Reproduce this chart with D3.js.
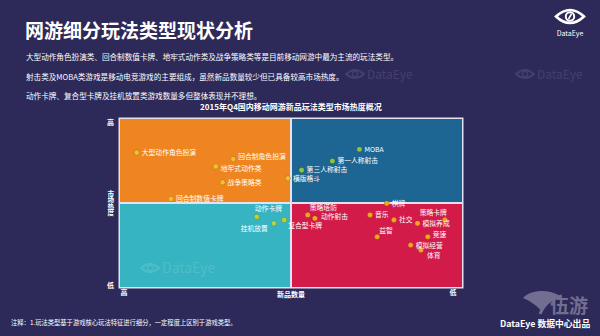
<!DOCTYPE html>
<html><head><meta charset="utf-8">
<script src="https://cdn.jsdelivr.net/npm/d3@7"></script>
<style>
html,body{margin:0;padding:0;background:#2d2959;}
svg{display:block;}
text{font-family:"Noto Sans CJK SC","Noto Sans",sans-serif;}
</style></head>
<body><svg id="c" width="600" height="336"></svg>
<script>
// ---- data ----
const categories = ["大型动作角色扮演","回合制角色扮演","地牢式动作类","战争策略类","回合制数值卡牌",
  "MOBA","第一人称射击","第三人称射击","横版格斗","棋牌",
  "动作卡牌","挂机放置","复合型卡牌",
  "策略塔防","动作射击","音乐","社交","策略卡牌","模拟养成","益智","竞速","模拟经营","体育"];
// 新品数量 index (100 = 高, 0 = 低)
const newCount = [95.1,66.9,72.0,70.0,85.1, 30.0,37.9,46.9,50.9,22.0, 60.0,55.0,52.0, 45.1,43.0,26.9,19.9,5.0,13.0,24.8,10.0,15.0,12.0];
// 市场热度 index (100 = 高, 0 = 低)
const heat = [80.0,76.2,71.8,62.3,52.4, 82.0,75.0,69.6,64.7,49.8, 41.8,37.9,39.9, 42.9,40.9,42.9,39.9,39.9,37.9,29.9,29.9,25.0,22.0];
const xTickLabels = ["高","低"];
const yTickLabels = ["高","低"];
const xTitle = "新品数量";
const yTitle = "市场热度";
const title = "网游细分玩法类型现状分析";
const notes = ["大型动作角色扮演类、回合制数值卡牌、地牢式动作类及战争策略类等是目前移动网游中最为主流的玩法类型。",
  "射击类及MOBA类游戏是移动电竞游戏的主要组成，虽然新品数量较少但已具备较高市场热度。",
  "动作卡牌、复合型卡牌及挂机放置类游戏数量多但整体表现并不理想。"];
const chartTitle = "2015年Q4国内移动网游新品玩法类型市场热度概况";
const footnote = "注释：1.玩法类型基于游戏核心玩法特征进行细分，一定程度上区别于游戏类型。";
const credit = "DataEye 数据中心出品";

// ---- layout / style ----
const svg = d3.select("#c");
const x = d3.scaleLinear().domain([100,0]).range([120,462]);
const y = d3.scaleLinear().domain([0,100]).range([287,119]);

// label placement (dx, dy, anchor) overrides; default is right of the dot
const place = {
  "回合制角色扮演":[5,-2,"start"], "地牢式动作类":[5,2,"start"],
  "动作卡牌":[-2,-8,"start"], "挂机放置":[-6,5,"end"], "复合型卡牌":[4,6,"start"],
  "策略塔防":[2,-7,"start"], "动作射击":[6,-2,"start"], "策略卡牌":[2,-7,"end"],
  "益智":[2,-6,"start"], "竞速":[5,-1.8,"start"], "模拟经营":[5,0.6,"start"], "体育":[6,5.6,"start"]
};

function watermark(px, py, op, size){
  const g = svg.append("g").attr("opacity",op).attr("transform",`translate(${px},${py})`);
  g.append("path").attr("d","M-9,0 Q0,-8 9,0 Q0,8 -9,0 Z").attr("fill","none").attr("stroke","#fff").attr("stroke-width",2);
  g.append("circle").attr("r",2.6).attr("fill","none").attr("stroke","#fff").attr("stroke-width",1.4);
  g.append("text").attr("x",12).attr("y",4.5).attr("fill","#fff").attr("font-size",size)
    .attr("font-family","Lato, sans-serif").text("DataEye");
}

// title & notes
svg.append("text").attr("x",25).attr("y",38).attr("fill","#fff")
  .attr("font-size",19).attr("font-weight","bold").text(title);
svg.selectAll("text.note").data(notes).join("text").attr("class","note")
  .attr("x",26).attr("y",(d,i)=>[60,79.5,98.5][i]).attr("fill","#fff")
  .attr("font-size",7.6).text(d=>d);

// logo top-right
const logo = svg.append("g").attr("transform","translate(570,16.5)");
logo.append("path").attr("d","M-14,0 Q0,-13 14,0 Q0,13 -14,0 Z")
  .attr("fill","none").attr("stroke","#fff").attr("stroke-width",2.6);
logo.append("circle").attr("r",4.2).attr("fill","none").attr("stroke","#fff").attr("stroke-width",2);
logo.append("path").attr("d","M1.5,-2.5 L-1.5,2.5").attr("stroke","#fff").attr("stroke-width",1.6);
svg.append("text").attr("x",570).attr("y",35.5).attr("text-anchor","middle").attr("fill","#fff")
  .attr("font-size",7).attr("font-family","Lato, 'Noto Sans', sans-serif").text("DataEye");

// faint watermarks in background
watermark(355,74,0.1,12);
watermark(525,74,0.1,12);

// chart title
svg.append("text").attr("x",291).attr("y",109.5).attr("text-anchor","middle").attr("fill","#fff")
  .attr("font-size",8).attr("font-weight","bold").text(chartTitle);

// frame
svg.append("rect").attr("x",x(100)-1.5).attr("y",y(100)-1.5)
  .attr("width",x(0)-x(100)+3).attr("height",y(0)-y(100)+3).attr("fill","#e4e2f0");
const quads = [
  {x0:100,x1:50,y0:100,y1:50,c:"#ef8520",dot:"#f3c02c"},
  {x0:50,x1:0,y0:100,y1:50,c:"#1d6593",dot:"#8cc63f"},
  {x0:100,x1:50,y0:50,y1:0,c:"#36b4c2",dot:"#b8d436"},
  {x0:50,x1:0,y0:50,y1:0,c:"#d21b49",dot:"#f4a51f"}
];
svg.selectAll("rect.q").data(quads).join("rect").attr("class","q")
  .attr("x",d=>x(d.x0)+(d.x0===50?1:0))
  .attr("y",d=>y(d.y0)+(d.y0===50?1:0))
  .attr("width",d=>x(d.x1)-x(d.x0)-1)
  .attr("height",d=>y(d.y1)-y(d.y0)-1)
  .attr("fill",d=>d.c);
watermark(150,268,0.12,14);

// axes
const xAxis = svg.append("g").attr("transform",`translate(0,${y(0)})`)
  .call(d3.axisBottom(x).tickValues([100,0]).tickSize(0).tickPadding(3).tickFormat((d,i)=>xTickLabels[i]));
xAxis.select(".domain").remove();
xAxis.selectAll("text").attr("fill","#fff").attr("font-size",7).attr("font-weight","bold")
  .attr("text-anchor",(d,i)=>i===0?"start":"end").attr("dx",(d,i)=>i===0?0:-6);
const yAxis = svg.append("g").attr("transform",`translate(${x(100)},0)`)
  .call(d3.axisLeft(y).tickValues([100,0]).tickSize(0).tickPadding(6).tickFormat((d,i)=>yTickLabels[d===100?0:1]));
yAxis.select(".domain").remove();
yAxis.selectAll("text").attr("fill","#fff").attr("font-size",7).attr("font-weight","bold")
  .attr("dy",d=>d===100?"0.75em":"0.1em");
svg.append("text").attr("x",x(50)).attr("y",y(0)+9.5).attr("text-anchor","middle").attr("fill","#fff")
  .attr("font-size",7).attr("font-weight","bold").text(xTitle);
svg.append("text").attr("x",110.7).attr("y",y(50)).attr("text-anchor","middle")
  .style("writing-mode","vertical-rl").attr("fill","#fff").attr("font-size",6.6)
  .attr("font-weight","bold").text(yTitle);

// points
const pts = categories.map((n,i)=>({n, xv:newCount[i], yv:heat[i]}));
function dotColor(d){
  const q = quads.find(q=>d.xv<=q.x0 && d.xv>=q.x1 && d.yv<=q.y0 && d.yv>=q.y1);
  return q ? q.dot : "#fff";
}
svg.selectAll("circle.p").data(pts).join("circle").attr("class","p")
  .attr("cx",d=>x(d.xv)).attr("cy",d=>y(d.yv)).attr("r",2.6)
  .attr("fill",dotColor).attr("stroke","rgba(0,0,0,0.25)").attr("stroke-width",0.6);
svg.selectAll("text.lbl").data(pts).join("text").attr("class","lbl")
  .attr("x",d=>x(d.xv)+(place[d.n]?place[d.n][0]:5))
  .attr("y",d=>y(d.yv)+(place[d.n]?place[d.n][1]:0))
  .attr("dy","0.35em")
  .attr("text-anchor",d=>place[d.n]?place[d.n][2]:"start")
  .attr("fill","#fff").attr("font-size",6.8).text(d=>d.n);

// footer
svg.append("text").attr("x",11).attr("y",325).attr("fill","#fff").attr("font-size",6.3).text(footnote);
const wy = svg.append("g").attr("opacity",0.55);
wy.append("path").attr("d","M523,298 C530,290 548,288 560,296 C552,298 545,304 542,312 C538,306 530,301 523,298 Z").attr("fill","#a9a7bf");
wy.append("path").attr("d","M540,314 C544,304 552,298 562,296").attr("fill","none").attr("stroke","#a9a7bf").attr("stroke-width",3);
wy.append("text").attr("x",550).attr("y",313).attr("fill","#a9a7bf").attr("font-size",19).attr("font-weight","bold").text("伍游");
svg.append("text").attr("x",500).attr("y",326.5).attr("fill","#fff").attr("font-size",8.8)
  .attr("font-weight","bold").text(credit);
</script></body></html>
